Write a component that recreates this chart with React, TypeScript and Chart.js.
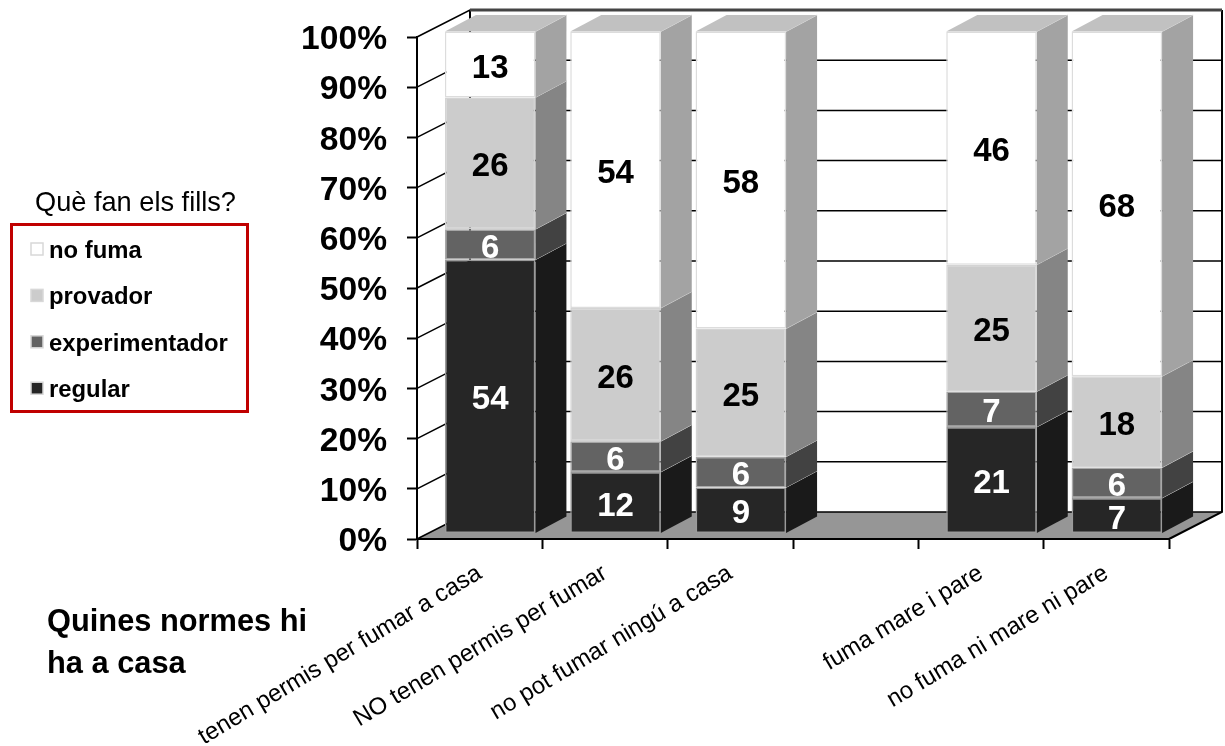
import React, { useEffect, useRef } from "react";
import { Chart, registerables } from "chart.js";

Chart.register(...registerables);

const categories = [
  "tenen permis per fumar a casa",
  "NO tenen permis per fumar",
  "no pot fumar ningú a casa",
  "",
  "fuma mare i pare",
  "no fuma ni mare ni pare",
];

const seriesNames = ["regular", "experimentador", "provador", "no fuma"];
const regular = [54, 12, 9, null, 21, 7];
const experimentador = [6, 6, 6, null, 7, 6];
const provador = [26, 26, 25, null, 25, 18];
const noFuma = [13, 54, 58, null, 46, 68];
const seriesValues = [regular, experimentador, provador, noFuma];

const frontColors = ["#262626", "#636363", "#cccccc", "#ffffff"];
const sideColors = ["#1a1a1a", "#424242", "#858585", "#a3a3a3"];
const edgeColors = ["#9a9a9a", "#a8a8a8", "#d4d4d4", "#dcdcdc"];
const labelColors = ["#ffffff", "#ffffff", "#000000", "#000000"];
const topColor = "#c1c1c1";

const legendTitle = "Què fan els fills?";
const axisCaption = ["Quines normes hi", "ha a casa"];

const FONT = '"Liberation Sans", Arial, sans-serif';

// Projection of the 3D box: wall depth, bar depth and the inset of the bars' front plane.
const WALL = { dx: 53, dy: -27 };
const BAR_DEPTH = { dx: 31, dy: -16.5 };
const BAR_INSET = { dx: 10.5, dy: -5.5 };

// Every column fills the 100% scale, so each value becomes its share of the column total.
const totals = categories.map((_, i) =>
  seriesValues.reduce((sum, s) => sum + (s[i] ?? 0), 0)
);
const shares = seriesValues.map((s) =>
  s.map((v, i) => (v === null ? null : (v / totals[i]) * 100))
);

const box3d = {
  id: "box3d",
  beforeDraw(chart: any) {
    const { ctx, chartArea } = chart;
    const { left, right, bottom } = chartArea;
    const y = chart.scales.y;
    ctx.save();
    ctx.fillStyle = "#ffffff";
    ctx.fillRect(0, 0, chart.width, chart.height);

    // floor
    ctx.fillStyle = "#969696";
    ctx.beginPath();
    ctx.moveTo(left, bottom);
    ctx.lineTo(left + WALL.dx, bottom + WALL.dy);
    ctx.lineTo(right + WALL.dx, bottom + WALL.dy);
    ctx.lineTo(right, bottom);
    ctx.closePath();
    ctx.fill();

    // gridlines on the side wall and the back wall
    ctx.strokeStyle = "#000000";
    ctx.lineWidth = 1.5;
    for (const tick of y.ticks) {
      const py = y.getPixelForValue(tick.value);
      ctx.beginPath();
      ctx.moveTo(left, py);
      ctx.lineTo(left + WALL.dx, py + WALL.dy);
      ctx.lineTo(right + WALL.dx, py + WALL.dy);
      ctx.stroke();
    }

    // back corner, right wall edge and the floor's right edge
    ctx.lineWidth = 2;
    ctx.beginPath();
    ctx.moveTo(left + WALL.dx, y.top + WALL.dy);
    ctx.lineTo(left + WALL.dx, bottom + WALL.dy);
    ctx.moveTo(right + WALL.dx, y.top + WALL.dy);
    ctx.lineTo(right + WALL.dx, bottom + WALL.dy);
    ctx.lineTo(right, bottom);
    ctx.stroke();

    ctx.strokeStyle = "#444444";
    ctx.lineWidth = 3;
    ctx.beginPath();
    ctx.moveTo(left + WALL.dx, y.top + WALL.dy);
    ctx.lineTo(right + WALL.dx, y.top + WALL.dy);
    ctx.stroke();
    ctx.restore();
  },
  beforeDatasetsDraw(chart: any) {
    const { ctx } = chart;
    ctx.save();
    ctx.translate(BAR_INSET.dx, BAR_INSET.dy);
    seriesValues.forEach((series, si) => {
      const bars = chart.getDatasetMeta(si).data;
      bars.forEach((bar: any, i: number) => {
        if (series[i] === null) return;
        const r = bar.x + bar.width / 2;
        const l = bar.x - bar.width / 2;
        const top = bar.y;
        const base = bar.base;
        ctx.fillStyle = sideColors[si];
        ctx.strokeStyle = edgeColors[Math.max(si, 2)];
        ctx.lineWidth = 1;
        ctx.beginPath();
        ctx.moveTo(r, base);
        ctx.lineTo(r + BAR_DEPTH.dx, base + BAR_DEPTH.dy);
        ctx.lineTo(r + BAR_DEPTH.dx, top + BAR_DEPTH.dy);
        ctx.lineTo(r, top);
        ctx.closePath();
        ctx.fill();
        ctx.beginPath();
        ctx.moveTo(r, top);
        ctx.lineTo(r + BAR_DEPTH.dx, top + BAR_DEPTH.dy);
        ctx.stroke();
        if (si === seriesValues.length - 1) {
          ctx.fillStyle = topColor;
          ctx.beginPath();
          ctx.moveTo(l, top);
          ctx.lineTo(l + BAR_DEPTH.dx, top + BAR_DEPTH.dy);
          ctx.lineTo(r + BAR_DEPTH.dx, top + BAR_DEPTH.dy);
          ctx.lineTo(r, top);
          ctx.closePath();
          ctx.fill();
        }
      });
    });
  },
  afterDatasetsDraw(chart: any) {
    const { ctx } = chart;
    ctx.textAlign = "center";
    ctx.textBaseline = "middle";
    ctx.font = `bold 33px ${FONT}`;
    seriesValues.forEach((series, si) => {
      chart.getDatasetMeta(si).data.forEach((bar: any, i: number) => {
        const v = series[i];
        if (v === null) return;
        ctx.fillStyle = labelColors[si];
        ctx.fillText(String(v), bar.x, (bar.y + bar.base) / 2 + 4);
      });
    });
    ctx.restore();
  },
  afterDraw(chart: any) {
    const { ctx } = chart;
    ctx.save();
    ctx.textBaseline = "alphabetic";
    ctx.textAlign = "left";
    ctx.fillStyle = "#000000";

    ctx.font = `27.2px ${FONT}`;
    ctx.fillText(legendTitle, 35, 211);

    ctx.strokeStyle = "#c00000";
    ctx.lineWidth = 3;
    ctx.strokeRect(11.5, 224.5, 236, 187);

    ctx.font = `bold 23.85px ${FONT}`;
    const rows = [...seriesNames.keys()].reverse();
    rows.forEach((si, row) => {
      const rowY = 258 + row * 46.4;
      ctx.fillStyle = frontColors[si];
      ctx.strokeStyle = "#d8d8d8";
      ctx.lineWidth = 1.5;
      ctx.fillRect(31, rowY - 15, 12, 12);
      ctx.strokeRect(31, rowY - 15, 12, 12);
      ctx.fillStyle = "#000000";
      ctx.fillText(seriesNames[si], 49, rowY);
    });

    ctx.font = `bold 30.8px ${FONT}`;
    axisCaption.forEach((line, i) => ctx.fillText(line, 47, 631 + i * 42));
    ctx.restore();
  },
};

export default function App() {
  const ref = useRef<HTMLCanvasElement>(null);

  useEffect(() => {
    const chart = new Chart(ref.current as HTMLCanvasElement, {
      type: "bar",
      data: {
        labels: categories,
        datasets: shares.map((data, si) => ({
          label: seriesNames[si],
          data,
          backgroundColor: frontColors[si],
          borderColor: edgeColors[si],
          borderWidth: 1.5,
          borderSkipped: false,
          categoryPercentage: 0.722,
          barPercentage: 1,
        })),
      } as any,
      options: {
        animation: false,
        responsive: false,
        layout: { padding: { left: 0, top: 37, right: 56, bottom: 0 } },
        plugins: { legend: { display: false }, tooltip: { enabled: false } },
        scales: {
          x: {
            stacked: true,
            afterFit(scale: any) {
              scale.height = 207;
            },
            grid: {
              offset: true,
              drawOnChartArea: false,
              tickLength: 10,
              tickColor: "#000000",
              tickWidth: 2,
            },
            border: { color: "#000000", width: 2 },
            ticks: {
              autoSkip: false,
              maxRotation: 31,
              minRotation: 31,
              padding: 10,
              color: "#000000",
              font: { family: FONT, size: 24 },
            },
          },
          y: {
            stacked: true,
            min: 0,
            max: 100,
            afterFit(scale: any) {
              scale.width = 417;
              // the layout padding alone fixes the top of the plot area
              scale.paddingTop = 0;
              scale.paddingBottom = 0;
            },
            grid: {
              drawOnChartArea: false,
              tickLength: 10,
              tickColor: "#000000",
              tickWidth: 2,
            },
            border: { color: "#000000", width: 2 },
            ticks: {
              stepSize: 10,
              padding: 20,
              labelOffset: 3,
              color: "#000000",
              font: { family: FONT, size: 33.6, weight: "bold" },
              callback: (v: any) => `${v}%`,
            },
          },
        },
      } as any,
      plugins: [box3d],
    });
    return () => chart.destroy();
  }, []);

  return (
    <div style={{ position: "absolute", left: 0, top: 0, width: 1225, height: 746 }}>
      <canvas ref={ref} width={1225} height={746} style={{ display: "block" }} />
    </div>
  );
}
